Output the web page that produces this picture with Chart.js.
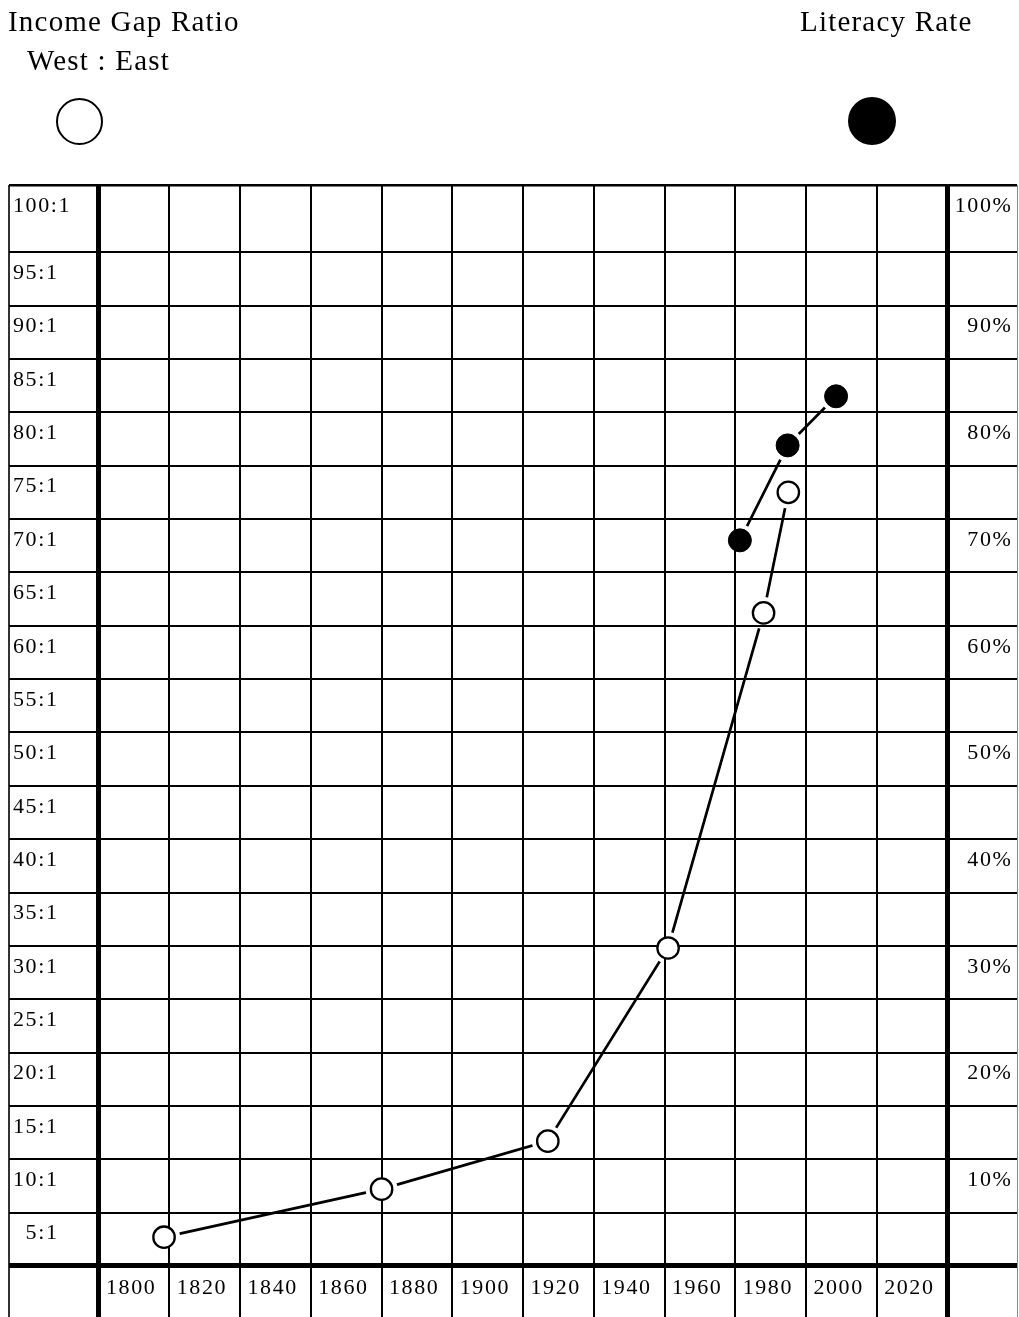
<!DOCTYPE html>
<html>
<head>
<meta charset="utf-8">
<script src="https://cdn.jsdelivr.net/npm/chart.js@4.4.1/dist/chart.umd.min.js"></script>
<style>
html, body { margin: 0; padding: 0; background: #fff; overflow: hidden; }
#wrap { position: relative; width: 1019px; height: 1317px; }
canvas { position: absolute; left: 0; top: 0; }
.title { position: absolute; font-family: 'Liberation Serif', 'Times New Roman', serif; font-size: 29px; line-height: 29px; letter-spacing: 1.2px; color: #000; white-space: nowrap; }
.key { position: absolute; box-sizing: border-box; border-radius: 50%; }
</style>
</head>
<body>
<div id="wrap">
  <canvas id="chart" width="1019" height="1317"></canvas>
  <div class="title" style="left:8px; top:6.7px">Income Gap Ratio</div>
  <div class="title" style="left:27px; top:46.4px">West : East</div>
  <div class="title" style="left:800px; top:7.4px">Literacy Rate</div>
  <div class="key" style="left:56px; top:97.5px; width:47px; height:47px; border:2.3px solid #000; background:#fff"></div>
  <div class="key" style="left:848px; top:97px; width:48px; height:48px; background:#000"></div>
</div>
<script>
// ticks and labels
const yearTicks = [1800, 1820, 1840, 1860, 1880, 1900, 1920, 1940, 1960, 1980, 2000, 2020, 2040];
const yearLabels = ['1800', '1820', '1840', '1860', '1880', '1900', '1920', '1940', '1960', '1980', '2000', '2020', ''];
const ratioTicks = [0, 5, 10, 15, 20, 25, 30, 35, 40, 45, 50, 55, 60, 65, 70, 75, 80, 85, 90, 95];
const ratioLabels = ['', '\u20075:1', '10:1', '15:1', '20:1', '25:1', '30:1', '35:1', '40:1', '45:1', '50:1',
  '55:1', '60:1', '65:1', '70:1', '75:1', '80:1', '85:1', '90:1', '95:1', '100:1'];
const percentLabels = ['', '', '10%', '', '20%', '', '30%', '', '40%', '', '50%',
  '', '60%', '', '70%', '', '80%', '', '90%', '', '100%'];

// income gap West : East (open circles)
const incomeYears = [1818.5, 1880, 1927, 1961, 1988, 1995];
const incomeRatio = [2.7, 7.2, 11.7, 29.8, 61.2, 72.5];
// literacy rate % (filled circles)
const literacyYears = [1981.3, 1994.8, 2008.5];
const literacyRate = [68.0, 76.9, 81.5];

// grid frame: label column left, label column right, label row bottom, taller top row
const xMin = 1774.67, xMax = 2059.65;
const yMin = -4.78, yMax = 101.3;

const serif = "'Liberation Serif', 'Times New Roman', serif";
const incomePts = incomeYears.map((x, i) => ({ x: x, y: incomeRatio[i] }));
const literacyPts = literacyYears.map((x, i) => ({ x: x, y: literacyRate[i] }));

// axes take no room, labels sit inside the grid cells
function flat(s) {
  if (s.isHorizontal()) s.height = 0; else s.width = 0;
  s.paddingLeft = s.paddingRight = s.paddingTop = s.paddingBottom = 0;
}

// line segments stop short of the circles
const lineGaps = {
  id: 'lineGaps',
  beforeDraw(chart) {
    chart.ctx.letterSpacing = '1.6px';
  },
  beforeDatasetDraw(chart, args) {
    const r = chart.data.datasets[args.index].gap;
    if (!r) return;
    const ctx = chart.ctx;
    ctx.save();
    ctx.beginPath();
    ctx.rect(0, 0, chart.width, chart.height);
    args.meta.data.forEach(p => {
      ctx.moveTo(p.x + r, p.y);
      ctx.arc(p.x, p.y, r, 0, Math.PI * 2);
    });
    ctx.clip('evenodd');
  },
  afterDatasetDraw(chart, args) {
    if (chart.data.datasets[args.index].gap) chart.ctx.restore();
  }
};

const chart = new Chart(document.getElementById('chart'), {
  type: 'scatter',
  data: {
    datasets: [
      {
        label: 'Income Gap Ratio West : East',
        data: incomePts,
        showLine: false,
        pointRadius: 10.7,
        pointBorderWidth: 2.3,
        pointBackgroundColor: '#fff',
        pointBorderColor: '#000',
        order: 0
      },
      {
        label: 'Literacy Rate',
        data: literacyPts,
        yAxisID: 'pct',
        showLine: false,
        pointRadius: 11.5,
        pointBorderWidth: 1,
        pointBackgroundColor: '#000',
        pointBorderColor: '#000',
        order: 0
      },
      {
        data: incomePts,
        showLine: true,
        borderColor: '#000',
        borderWidth: 2.7,
        pointRadius: 0,
        gap: 16,
        order: 1
      },
      {
        data: literacyPts,
        yAxisID: 'pct',
        showLine: true,
        borderColor: '#000',
        borderWidth: 2.7,
        pointRadius: 0,
        gap: 16,
        order: 1
      }
    ]
  },
  options: {
    responsive: false,
    animation: false,
    events: [],
    layout: { autoPadding: false, padding: { left: 9, right: 2, top: 185, bottom: 0 } },
    plugins: {
      legend: { display: false },
      tooltip: { enabled: false }
    },
    scales: {
      x: {
        type: 'linear',
        position: 'bottom',
        min: xMin,
        max: xMax,
        afterBuildTicks: s => { s.ticks = [xMin].concat(yearTicks, [xMax]).map(v => ({ value: v })); },
        afterFit: flat,
        border: { display: false },
        grid: {
          drawTicks: false,
          color: c => c.tick.value === xMax ? '#888' : (c.tick.value === xMin ? '#333' : '#000'),
          lineWidth: c => {
            const v = c.tick.value;
            if (v === 1800 || v === 2040) return 5;
            if (v === xMax) return 1;
            return 2;
          }
        },
        ticks: {
          mirror: true,
          padding: 16,
          align: 'start',
          labelOffset: 7.4,
          autoSkip: false,
          maxRotation: 0,
          minRotation: 0,
          color: '#000',
          font: { family: serif, size: 22 },
          callback: (v, i) => i === 0 ? '' : (yearLabels[i - 1] || '')
        }
      },
      y: {
        type: 'linear',
        position: 'left',
        min: yMin,
        max: yMax,
        afterBuildTicks: s => { s.ticks = ratioTicks.concat([yMax]).map(v => ({ value: v })); },
        afterFit: flat,
        border: { display: false },
        grid: {
          drawTicks: false,
          color: '#000',
          lineWidth: c => c.tick.value === 0 ? 5 : (c.tick.value === yMax ? 2.5 : 2)
        },
        ticks: {
          mirror: true,
          padding: 4,
          labelOffset: 21,
          autoSkip: false,
          color: '#000',
          font: { family: serif, size: 22 },
          callback: (v, i) => ratioLabels[i]
        }
      },
      pct: {
        type: 'linear',
        position: 'right',
        min: yMin,
        max: yMax,
        afterBuildTicks: s => { s.ticks = ratioTicks.concat([yMax]).map(v => ({ value: v })); },
        afterFit: flat,
        border: { display: false },
        grid: { display: false, drawTicks: false },
        ticks: {
          mirror: true,
          padding: -4.5,
          labelOffset: 21,
          autoSkip: false,
          color: '#000',
          font: { family: serif, size: 22 },
          callback: (v, i) => percentLabels[i] === '' ? '' : (percentLabels[i].length < 4 ? '\u2007' + percentLabels[i] : percentLabels[i])
        }
      }
    }
  },
  plugins: [lineGaps]
});
</script>
</body>
</html>
